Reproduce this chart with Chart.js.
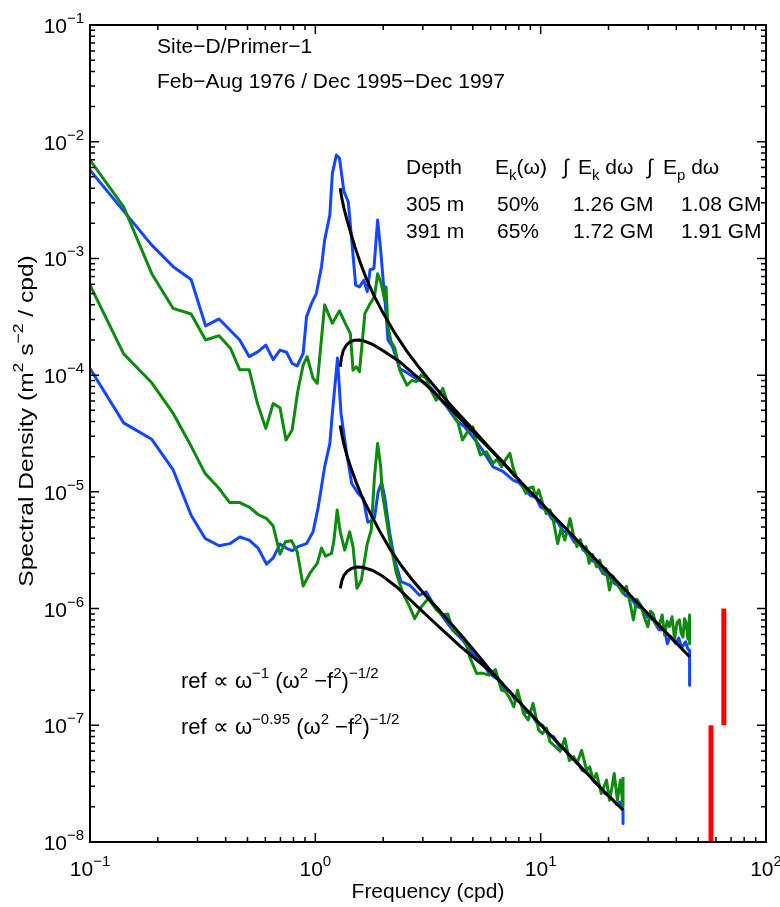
<!DOCTYPE html>
<html>
<head>
<meta charset="utf-8">
<script src="https://cdn.jsdelivr.net/npm/chart.js@4.4.0/dist/chart.umd.min.js"></script>
<style>
  html, body { margin: 0; padding: 0; background: #fff; }
  canvas { display: block; }
</style>
</head>
<body>
<canvas id="spectra" width="780" height="907"></canvas>
<script>
// Frequency (cpd) / spectral density pairs
const upperBlue = [
  [0.1,5.7e-3],[0.146,2.35e-3],[0.188,1.3e-3],[0.234,8.5e-4],[0.281,6.6e-4],[0.326,2.64e-4],[0.374,3.03e-4],
  [0.462,2.0e-4],[0.509,1.44e-4],[0.557,1.59e-4],[0.603,1.81e-4],[0.65,1.36e-4],[0.697,1.64e-4],[0.745,1.57e-4],
  [0.789,1.26e-4],[0.831,1.2e-4],[0.883,1.54e-4],[0.914,3.16e-4],[0.962,4.12e-4],[1.01,5.0e-4],[1.065,8.5e-4],
  [1.10,1.44e-3],[1.16,2.36e-3],[1.19,5.35e-3],[1.24,7.7e-3],[1.28,7.2e-3],[1.34,3.73e-3],[1.40,3.06e-3],
  [1.45,1.44e-3],[1.51,5.9e-4],[1.57,5.7e-4],[1.64,6.5e-4],[1.70,5.2e-4],[1.75,8.0e-4],[1.82,8.2e-4],
  [1.89,2.13e-3],[1.95,1.18e-3],[2.0,6.5e-4],[2.06,3.38e-4],[2.1,2.0e-4],[2.2,1.75e-4],[2.37,1.14e-4],
  [2.55,1.05e-4],[2.72,9.7e-5],[2.9,9.0e-5],[3.11,8.5e-5],[3.3,7.6e-5],[3.56,6.3e-5],[3.85,5.3e-5],
  [4.22,4.1e-5],[4.6,3.6e-5],[5.0,2.96e-5],[5.5,2.3e-5],[6.14,1.64e-5],[6.8,1.5e-5],[7.54,1.26e-5],
  [8.0,1.2e-5],[8.5,1.05e-5],[9.0,9.3e-6],[9.5,9.0e-6],[10,7.4e-6],[10.6,7.0e-6],[11.2,5.9e-6],[11.9,5.5e-6],
  [12.6,4.6e-6],[13.3,4.5e-6],[14.1,3.7e-6],[15.0,3.5e-6],[15.9,3.0e-6],[16.8,2.6e-6],[17.8,2.45e-6],
  [18.9,2.0e-6],[20.0,1.9e-6],[21.2,1.65e-6],[22.4,1.55e-6],[23.7,1.3e-6],[25.1,1.25e-6],[26.6,1.05e-6],
  [28.2,1.0e-6],[29.9,8.4e-7],[31.6,8.0e-7],[33.5,6.6e-7],[35.5,6.6e-7],[36.5,5.0e-7],[37.6,5.8e-7],
  [39.8,5.0e-7],[41.0,5.6e-7],[42.2,4.6e-7],[44.0,5.2e-7],[45.0,4.5e-7],[45.8,4.4e-7],[45.8,2.2e-7]
];

const upperGreen = [
  [0.1,6.97e-3],[0.141,2.77e-3],[0.188,7.4e-4],[0.234,3.73e-4],[0.281,3.34e-4],[0.326,2.0e-4],[0.374,2.18e-4],
  [0.42,1.7e-4],[0.462,1.11e-4],[0.509,1.11e-4],[0.554,5.7e-5],[0.603,3.5e-5],[0.65,5.7e-5],[0.697,5.26e-5],
  [0.741,2.78e-5],[0.789,3.39e-5],[0.835,7.2e-5],[0.883,1.22e-4],[0.92,1.44e-4],[0.977,9.4e-5],[1.02,8.5e-5],
  [1.10,4.0e-4],[1.19,2.78e-4],[1.28,3.56e-4],[1.37,2.68e-4],[1.43,2.28e-4],[1.47,1.1e-4],[1.52,1.18e-4],
  [1.57,1.07e-4],[1.66,3.38e-4],[1.75,4.1e-4],[1.83,4.7e-4],[1.89,7.4e-4],[1.96,6.1e-4],[2.03,4.4e-4],
  [2.06,5.7e-4],[2.1,2.6e-4],[2.17,1.93e-4],[2.25,1.72e-4],[2.37,1.1e-4],[2.55,8.2e-5],[2.68,9.0e-5],
  [2.81,8.8e-5],[2.95,1.0e-4],[3.11,9.4e-5],[3.25,7.5e-5],[3.44,6.1e-5],[3.68,7.7e-5],[3.9,5.5e-5],
  [4.08,4.7e-5],[4.3,3.9e-5],[4.5,2.78e-5],[4.75,3.3e-5],[5.0,3.6e-5],[5.2,2.6e-5],[5.4,2.07e-5],
  [5.75,2.2e-5],[6.14,1.75e-5],[6.4,1.9e-5],[6.7,1.64e-5],[7.0,1.9e-5],[7.3,2.14e-5],[7.55,1.6e-5],
  [7.8,1.35e-5],[8.2,1.2e-5],[8.6,9.7e-6],[8.9,1.08e-5],[9.25,1.1e-5],[9.5,9.0e-6],[9.8,1.04e-5],
  [10.2,8.0e-6],[10.6,6.5e-6],[11.0,7.0e-6],[11.3,6.1e-6],[11.9,3.6e-6],[12.3,4.8e-6],[12.8,3.86e-6],
  [13.1,4.6e-6],[13.5,5.9e-6],[14.0,4.2e-6],[14.5,3.39e-6],[15.0,3.9e-6],[15.4,3.17e-6],[15.9,3.4e-6],
  [16.4,2.44e-6],[17.0,2.9e-6],[17.7,2.28e-6],[18.3,2.6e-6],[18.9,2.0e-6],[19.5,2.2e-6],[20.2,1.44e-6],
  [20.9,1.9e-6],[21.6,1.7e-6],[22.4,1.5e-6],[23.2,1.35e-6],[24.0,1.55e-6],[24.8,1.18e-6],[25.8,8.0e-7],
  [26.7,1.2e-6],[27.8,1.07e-6],[28.8,8.5e-7],[29.9,7.0e-7],[30.7,9.5e-7],[31.5,9.1e-7],[32.6,7.2e-7],
  [33.8,7.5e-7],[34.6,8.8e-7],[35.5,5.9e-7],[36.4,7.8e-7],[37.3,7.0e-7],[38.3,8.5e-7],[39.3,5.5e-7],
  [40.3,7.6e-7],[41.3,8.0e-7],[42.0,6.2e-7],[42.8,5.7e-7],[43.5,8.2e-7],[44.2,7.5e-7],[45.0,5.5e-7],
  [45.8,8.8e-7],[45.8,5.0e-7]
];

const lowerBlue = [
  [0.1,1.14e-4],[0.141,3.9e-5],[0.188,2.82e-5],[0.234,1.54e-5],[0.281,6.3e-6],[0.324,4.0e-6],[0.374,3.45e-6],
  [0.417,3.6e-6],[0.462,4.1e-6],[0.509,3.86e-6],[0.557,3.3e-6],[0.608,2.4e-6],[0.65,2.72e-6],[0.697,3.57e-6],
  [0.745,3.28e-6],[0.789,3.13e-6],[0.837,3.39e-6],[0.914,3.6e-6],[0.977,4.55e-6],[1.03,7.4e-6],[1.10,1.64e-5],
  [1.16,2.6e-5],[1.19,4.7e-5],[1.254,1.4e-4],[1.30,4.7e-5],[1.37,2.28e-5],[1.45,1.18e-5],[1.55,9.7e-6],
  [1.63,8.8e-6],[1.71,5.5e-6],[1.77,5.6e-6],[1.83,6.0e-6],[1.9,1.0e-5],[1.97,1.2e-5],[2.03,9.1e-6],
  [2.14,4.4e-6],[2.25,2.6e-6],[2.4,1.7e-6],[2.62,1.59e-6],[2.9,1.3e-6],[3.11,1.39e-6],[3.33,1.1e-6],
  [3.68,8.5e-7],[4.08,6.5e-7],[4.5,5.4e-7],[5.0,4.1e-7],[5.3,3.6e-7],[5.6,3.3e-7],[5.9,2.8e-7],[6.2,2.6e-7],
  [6.5,2.45e-7],[6.9,2.05e-7],[7.3,1.95e-7],[7.7,1.65e-7],[8.1,1.6e-7],[8.6,1.3e-7],[9.1,1.25e-7],
  [9.6,1.05e-7],[10.2,1.0e-7],[10.8,8.3e-8],[11.4,8.0e-8],[12.1,6.6e-8],[12.8,6.3e-8],[13.6,5.2e-8],
  [14.4,5.0e-8],[15.3,4.1e-8],[16.2,3.9e-8],[17.2,3.3e-8],[18.2,3.0e-8],[19.3,2.6e-8],[20.5,2.4e-8],
  [21.7,2.1e-8],[22.5,2.2e-8],[23.2,1.9e-8],[23.2,1.44e-8]
];

const lowerGreen = [
  [0.1,5.9e-4],[0.141,1.52e-4],[0.188,8.6e-5],[0.234,4.7e-5],[0.277,2.6e-5],[0.324,1.44e-5],[0.371,1.09e-5],
  [0.417,8.1e-6],[0.462,8.1e-6],[0.509,7.4e-6],[0.557,6.4e-6],[0.608,5.9e-6],[0.65,5.1e-6],[0.697,2.93e-6],
  [0.737,3.74e-6],[0.784,3.81e-6],[0.831,3.07e-6],[0.883,1.56e-6],[0.945,2.0e-6],[1.02,2.44e-6],[1.065,3.3e-6],
  [1.11,2.81e-6],[1.18,2.97e-6],[1.21,3.86e-6],[1.25,7.0e-6],[1.29,4.55e-6],[1.35,3.17e-6],[1.42,4.55e-6],
  [1.47,3.39e-6],[1.53,1.49e-6],[1.60,1.75e-6],[1.70,3.6e-6],[1.77,4.7e-6],[1.83,1.35e-5],[1.89,2.6e-5],
  [1.95,1.64e-5],[1.98,1.0e-5],[2.05,6.5e-6],[2.14,3.86e-6],[2.29,2.0e-6],[2.45,1.35e-6],[2.62,1.04e-6],
  [2.76,8.2e-7],[2.96,1.04e-6],[3.17,1.22e-6],[3.45,9.7e-7],[3.68,8.8e-7],[3.87,9.0e-7],[4.08,6.5e-7],
  [4.36,6.1e-7],[4.59,5.5e-7],[4.84,3.86e-7],[5.2,2.78e-7],[5.5,2.8e-7],[5.9,2.69e-7],[6.3,3.0e-7],
  [6.7,2.0e-7],[7.0,1.94e-7],[7.3,1.7e-7],[7.6,1.44e-7],[7.9,2.0e-7],[8.4,1.26e-7],[8.8,1.11e-7],
  [9.25,1.54e-7],[9.8,9.1e-8],[10.2,8.5e-8],[10.6,9.5e-8],[11.0,7.2e-8],[11.7,6.5e-8],[12.2,6.0e-8],
  [12.8,7.7e-8],[13.4,5.0e-8],[14.0,5.4e-8],[14.5,4.7e-8],[15.2,6.1e-8],[16.0,4.1e-8],[16.5,4.4e-8],
  [17.1,3.39e-8],[17.7,3.86e-8],[18.6,2.6e-8],[19.6,3.39e-8],[20.2,2.28e-8],[20.7,2.9e-8],[21.2,3.86e-8],
  [21.9,2.28e-8],[22.6,3.39e-8],[23.2,2.0e-8],[23.2,3.6e-8]
];

// reference curves (black)
const refUpper = [
  [1.29,4.0e-3],[1.31,3.3e-3],[1.34,2.7e-3],[1.38,2.15e-3],[1.43,1.7e-3],[1.5,1.25e-3],[1.58,9.3e-4],
  [1.69,6.6e-4],[1.82,4.8e-4],[2.0,3.4e-4],[2.25,2.3e-4],[2.55,1.6e-4],[2.9,1.15e-4],[3.4,7.9e-5],
  [4.0,5.5e-5],[4.8,3.75e-5],[5.8,2.5e-5],[6.8,1.8e-5],[7.8,1.33e-5],[10,8.1e-6],[13,4.8e-6],
  [17,2.8e-6],[22,1.68e-6],[28,1.03e-6],[36,6.25e-7],[45.8,3.86e-7]
];
const humpUpper = [
  [1.29,1.18e-4],[1.305,1.4e-4],[1.33,1.62e-4],[1.37,1.8e-4],[1.42,1.92e-4],[1.49,1.99e-4],[1.56,2.0e-4],
  [1.65,1.96e-4],[1.8,1.83e-4],[2.0,1.62e-4],[2.37,1.3e-4],[2.9,9.3e-5],[3.4,7.0e-5],[4.0,5.1e-5],
  [4.8,3.55e-5],[5.8,2.45e-5],[6.8,1.78e-5],[7.8,1.33e-5]
];
const refLower = [
  [1.29,3.7e-5],[1.31,3.1e-5],[1.34,2.55e-5],[1.38,2.05e-5],[1.44,1.6e-5],[1.52,1.2e-5],[1.62,8.9e-6],
  [1.75,6.6e-6],[1.92,4.7e-6],[2.14,3.25e-6],[2.4,2.35e-6],[2.72,1.72e-6],[3.1,1.28e-6],[3.56,9.6e-7],
  [4.2,6.7e-7],[5.0,4.5e-7],[5.9,3.05e-7],[6.8,2.25e-7],[8.0,1.6e-7],[9.6,1.1e-7],[11.5,7.6e-8],
  [13.5,5.5e-8],[16,3.9e-8],[19,2.75e-8],[23.2,1.88e-8]
];
const humpLower = [
  [1.29,1.49e-6],[1.31,1.72e-6],[1.34,1.93e-6],[1.39,2.1e-6],[1.45,2.21e-6],[1.52,2.27e-6],[1.62,2.26e-6],
  [1.8,2.12e-6],[2.0,1.88e-6],[2.29,1.54e-6],[2.6,1.22e-6],[2.9,1.0e-6],[3.3,7.9e-7],[3.82,6.1e-7],
  [4.4,4.75e-7],[5.0,3.85e-7],[5.9,2.95e-7],[6.8,2.25e-7]
];

// red bars
const redUpper = [[65,1e-7],[65,1e-6]];
const redLower = [[57,1e-8],[57,1e-7]];

// axis ticks
const xDecades = [0.1, 1, 10, 100];
const xExps = ['\u22121', '0', '1', '2'];
const yDecades = [1e-1, 1e-2, 1e-3, 1e-4, 1e-5, 1e-6, 1e-7, 1e-8];
const yExps = ['\u22121', '\u22122', '\u22123', '\u22124', '\u22125', '\u22126', '\u22127', '\u22128'];

// table text
const tableRows = [
  ['305 m', '50%', '1.26 GM', '1.08 GM'],
  ['391 m', '65%', '1.72 GM', '1.91 GM']
];

const BLUE = '#1446ff';
const GREEN = '#0e8a10';
const FONT = "'Liberation Sans', Arial, Helvetica, sans-serif";

const toPts = arr => arr.map(([x, y]) => ({ x, y }));
const line = (arr, color, width, order) => ({
  data: toPts(arr),
  borderColor: color,
  borderWidth: width,
  pointRadius: 0,
  showLine: true,
  fill: false,
  order: order,
  borderJoinStyle: 'round',
  tension: 0
});

// draws text pieces with super/subscripts, returns width
function rich(ctx, x, y, parts, size, align) {
  let w = 0;
  parts.forEach(p => {
    ctx.font = `${(p.sup || p.sub) ? Math.round(size * 0.7) : size}px ${FONT}`;
    w += ctx.measureText(p.t).width;
  });
  let cx = align === 'center' ? x - w / 2 : (align === 'right' ? x - w : x);
  parts.forEach(p => {
    const s = (p.sup || p.sub) ? Math.round(size * 0.7) : size;
    ctx.font = `${s}px ${FONT}`;
    const dy = p.sup ? -size * 0.47 : (p.sub ? size * 0.3 : 0);
    ctx.fillText(p.t, cx, y + dy);
    cx += ctx.measureText(p.t).width;
  });
  return w;
}

const frameAndText = {
  id: 'frameAndText',
  afterDraw(chart) {
    const ctx = chart.ctx;
    const a = chart.chartArea;
    const xs = chart.scales.x, ys = chart.scales.y;
    ctx.save();
    ctx.strokeStyle = '#000';
    ctx.fillStyle = '#000';
    ctx.lineWidth = 1.5;

    // x ticks (inward, top and bottom)
    for (let d = -1; d <= 1; d++) {
      for (let k = 1; k <= 9; k++) {
        const px = xs.getPixelForValue(k * Math.pow(10, d));
        const len = k === 1 ? 9 : 5;
        ctx.beginPath();
        ctx.moveTo(px, a.bottom); ctx.lineTo(px, a.bottom - len);
        ctx.moveTo(px, a.top); ctx.lineTo(px, a.top + len);
        ctx.stroke();
      }
    }
    // y ticks (inward, left and right)
    for (let d = -8; d <= -2; d++) {
      for (let k = 1; k <= 9; k++) {
        const py = ys.getPixelForValue(k * Math.pow(10, d));
        const len = k === 1 ? 9 : 5;
        ctx.beginPath();
        ctx.moveTo(a.left, py); ctx.lineTo(a.left + len, py);
        ctx.moveTo(a.right, py); ctx.lineTo(a.right - len, py);
        ctx.stroke();
      }
    }
    ctx.lineWidth = 2;
    ctx.strokeRect(a.left, a.top, a.right - a.left, a.bottom - a.top);

    ctx.textBaseline = 'alphabetic';
    ctx.textAlign = 'left';

    // tick labels
    yDecades.forEach((v, i) => {
      const py = ys.getPixelForValue(v);
      ctx.font = `21px ${FONT}`;
      const w10 = ctx.measureText('10').width;
      ctx.fillText('10', 67 - w10, py + 8);
      ctx.font = `15px ${FONT}`;
      ctx.fillText(yExps[i], 67, py - 2);
    });
    xDecades.forEach((v, i) => {
      const px = xs.getPixelForValue(v);
      rich(ctx, px, 876, [{ t: '10' }, { t: xExps[i], sup: true }], 21, 'center');
    });

    // axis titles
    rich(ctx, 428, 898, [{ t: 'Frequency (cpd)' }], 21, 'center');
    ctx.save();
    ctx.translate(33, 421);
    ctx.rotate(-Math.PI / 2);
    ctx.scale(1.17, 1);
    rich(ctx, 0, 0, [
      { t: 'Spectral Density (m' }, { t: '2', sup: true }, { t: ' s' }, { t: '\u22122', sup: true }, { t: ' / cpd)' }
    ], 21, 'center');
    ctx.restore();

    // header text
    ctx.font = `21px ${FONT}`;
    ctx.fillText('Site\u2212D/Primer\u22121', 157, 53);
    ctx.fillText('Feb\u2212Aug 1976 / Dec 1995\u2212Dec 1997', 157, 88);

    // table
    ctx.font = `21px ${FONT}`;
    ctx.fillText('Depth', 406, 174);
    rich(ctx, 495, 174, [{ t: 'E' }, { t: 'k', sub: true }, { t: '(\u03c9)' }], 21);
    ctx.font = `21px ${FONT}`;
    ctx.fillText('\u222b', 563, 174);
    rich(ctx, 578, 174, [{ t: 'E' }, { t: 'k', sub: true }, { t: ' d\u03c9' }], 21);
    ctx.font = `21px ${FONT}`;
    ctx.fillText('\u222b', 647, 174);
    rich(ctx, 663, 174, [{ t: 'E' }, { t: 'p', sub: true }, { t: ' d\u03c9' }], 21);
    const colX = [406, 497, 573, 681];
    tableRows.forEach((row, r) => {
      ctx.font = `21px ${FONT}`;
      row.forEach((txt, c) => ctx.fillText(txt, colX[c], 211 + r * 27));
    });

    // formulas
    rich(ctx, 181, 688, [
      { t: 'ref \u221d \u03c9' }, { t: '\u22121', sup: true }, { t: ' (\u03c9' }, { t: '2', sup: true },
      { t: ' \u2212f' }, { t: '2', sup: true }, { t: ')' }, { t: '\u22121/2', sup: true }
    ], 22);
    rich(ctx, 181, 734, [
      { t: 'ref \u221d \u03c9' }, { t: '\u22120.95', sup: true }, { t: ' (\u03c9' }, { t: '2', sup: true },
      { t: ' \u2212f' }, { t: '2', sup: true }, { t: ')' }, { t: '\u22121/2', sup: true }
    ], 22);

    ctx.restore();
  }
};

new Chart(document.getElementById('spectra'), {
  type: 'scatter',
  data: {
    datasets: [
      line(refUpper, '#000', 3, 0),
      line(humpUpper, '#000', 3, 0),
      line(refLower, '#000', 3, 0),
      line(humpLower, '#000', 3, 0),
      line(redUpper, '#ff0000', 5, 0),
      line(redLower, '#ff0000', 5, 0),
      line(upperGreen, GREEN, 3, 1),
      line(lowerGreen, GREEN, 3, 1),
      line(upperBlue, BLUE, 3, 2),
      line(lowerBlue, BLUE, 3, 2)
    ]
  },
  options: {
    responsive: false,
    devicePixelRatio: 1,
    animation: false,
    layout: { padding: { left: 90, right: 14, top: 25, bottom: 65 } },
    plugins: { legend: { display: false }, tooltip: { enabled: false } },
    scales: {
      x: { type: 'logarithmic', min: 0.1, max: 100, display: false },
      y: { type: 'logarithmic', min: 1e-8, max: 1e-1, display: false }
    }
  },
  plugins: [frameAndText]
});
</script>
</body>
</html>
